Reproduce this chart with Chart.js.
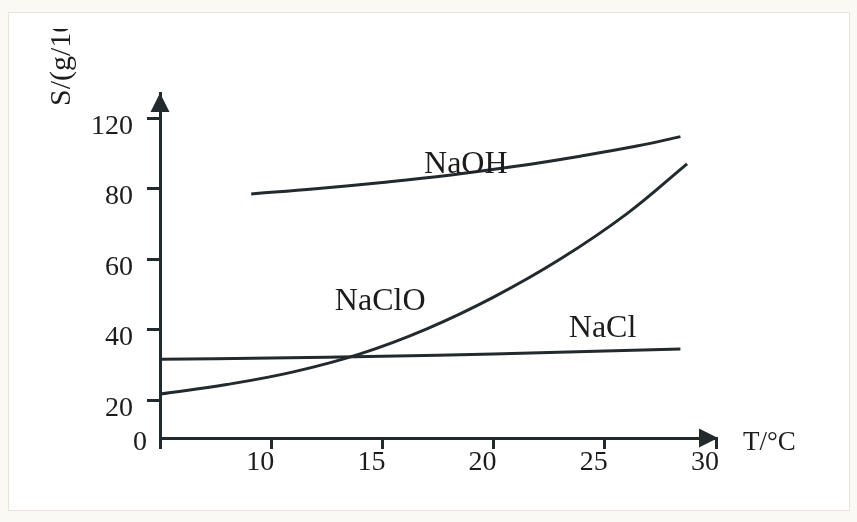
<!DOCTYPE html>
<html><head><meta charset="utf-8">
<script src="https://cdn.jsdelivr.net/npm/chart.js@4.4.1/dist/chart.umd.min.js"></script>
<style>
html,body{margin:0;padding:0;background:#fbf9f4;width:857px;height:522px;overflow:hidden}
#panel{position:absolute;left:8px;top:12px;width:840px;height:497px;background:#fff;border:1px solid #e8e4da}
#c{position:absolute;left:0;top:0}
</style></head><body>
<div id="panel"></div>
<canvas id="c" width="857" height="522"></canvas>
<script>
// Temperatures (°C) and solubility S (g/100g water)
const naohT  = [9.1, 12, 15, 18, 21, 24, 26.5, 28.4];
const naohS  = [78.6, 80.1, 83.7, 87.8, 92.8, 98.8, 104.4, 109.6];
const naclOT = [5, 8, 11, 14, 17, 20, 23, 26, 28.7];
const naclOS = [21.8, 24.5, 28.1, 33.2, 40.3, 49.3, 60.1, 73.0, 94.2];
const naclT  = [5, 10, 15, 20, 25, 28.4];
const naclS  = [31.7, 32.0, 32.5, 33.2, 34.0, 34.6];

const xTicks = [5, 10, 15, 20, 25, 30];
const xTickLabels = ['', '10', '15', '20', '25', '30'];
const yTickLabels = [20, 40, 60, 80, 120];

// the drawn axis is not uniform: 0–20 is compressed, 80–120 spans one step
const yBreaks = [0, 20, 40, 60, 80, 120];
const yAxisPos = [0, 10.67, 30.67, 50.67, 70.67, 90.73];
function toAxis(v){
  for (let i = 1; i < yBreaks.length; i++) {
    if (v <= yBreaks[i] || i === yBreaks.length - 1) {
      const t = (v - yBreaks[i-1]) / (yBreaks[i] - yBreaks[i-1]);
      return yAxisPos[i-1] + t * (yAxisPos[i] - yAxisPos[i-1]);
    }
  }
}
const pts = (xs, ys) => xs.map((x, i) => ({x: x, y: toAxis(ys[i])}));

const INK = '#232a2d';
const SERIF = '"Liberation Serif", "Noto Sans CJK SC", serif';

const seriesLabels = [
  {text: 'NaOH',  x: 18.75, y: 89.3},
  {text: 'NaClO', x: 14.9,  y: 45.7},
  {text: 'NaCl',  x: 24.9,  y: 38.1}
];

const decor = {
  id: 'decor',
  afterDraw(chart) {
    const ctx = chart.ctx, a = chart.chartArea;
    const xs = chart.scales.x, ys = chart.scales.y;
    ctx.save();
    ctx.fillStyle = INK;
    // y arrow
    ctx.beginPath();
    ctx.moveTo(a.left, a.top);
    ctx.lineTo(a.left - 9.5, a.top + 19);
    ctx.lineTo(a.left + 9.5, a.top + 19);
    ctx.closePath(); ctx.fill();
    // x arrow
    ctx.beginPath();
    ctx.moveTo(a.right + 2, a.bottom);
    ctx.lineTo(a.right - 17, a.bottom - 9.5);
    ctx.lineTo(a.right - 17, a.bottom + 9.5);
    ctx.closePath(); ctx.fill();

    ctx.fillStyle = '#1c1c1c';
    // series labels
    ctx.font = '32px ' + SERIF;
    ctx.textAlign = 'center';
    ctx.textBaseline = 'alphabetic';
    seriesLabels.forEach(l => {
      ctx.fillText(l.text, xs.getPixelForValue(l.x), ys.getPixelForValue(toAxis(l.y)));
    });
    // origin 0
    ctx.font = '28px ' + SERIF;
    ctx.textAlign = 'right';
    ctx.fillText('0', a.left - 13, a.bottom + 12);
    // x title
    ctx.textAlign = 'left';
    ctx.font = '27px ' + SERIF;
    ctx.fillText('T/°C', a.right + 27, a.bottom + 12);
    // y title (cut at the top as in the source)
    ctx.beginPath();
    ctx.rect(0, 29, 857, 493);
    ctx.clip();
    ctx.translate(70, 106);
    ctx.rotate(-Math.PI / 2);
    ctx.font = '30px ' + SERIF;
    ctx.fillText('S/(g/100g水)', 0, 0);
    ctx.restore();
  }
};

const lineDs = (label, data) => ({
  label: label, data: data, borderColor: INK, borderWidth: 3,
  pointRadius: 0, fill: false, tension: 0.4
});

new Chart(document.getElementById('c'), {
  type: 'line',
  data: {
    datasets: [
      lineDs('NaOH', pts(naohT, naohS)),
      lineDs('NaClO', pts(naclOT, naclOS)),
      lineDs('NaCl', pts(naclT, naclS))
    ]
  },
  options: {
    responsive: false,
    devicePixelRatio: 1,
    animation: false,
    layout: {padding: {top: 93, right: 141, left: 0, bottom: 0}},
    plugins: {legend: {display: false}, tooltip: {enabled: false}},
    scales: {
      x: {
        type: 'linear', min: 5, max: 30,
        afterBuildTicks: s => { s.ticks = xTicks.map(v => ({value: v})); },
        afterFit: s => { s.height = 84; },
        border: {display: true, color: INK, width: 3},
        grid: {drawOnChartArea: false, drawTicks: true, tickLength: 11, color: INK, lineWidth: 3},
        ticks: {
          callback: (v, i) => xTickLabels[i],
          font: {family: SERIF, size: 28}, color: '#1c1c1c',
          padding: -3, labelOffset: -11, maxRotation: 0, autoSkip: false
        }
      },
      y: {
        type: 'linear', min: 0, max: 97.9,
        afterBuildTicks: s => { s.ticks = yTickLabels.map(v => ({value: toAxis(v)})); },
        afterFit: s => { s.width = 160; },
        border: {display: true, color: INK, width: 3},
        grid: {drawOnChartArea: false, drawTicks: true, tickLength: 13, color: INK, lineWidth: 3},
        ticks: {
          callback: (v, i) => String(yTickLabels[i]),
          font: {family: SERIF, size: 28}, color: '#1c1c1c',
          padding: 14, labelOffset: 8, autoSkip: false
        }
      }
    }
  },
  plugins: [decor]
});
</script>
</body></html>
